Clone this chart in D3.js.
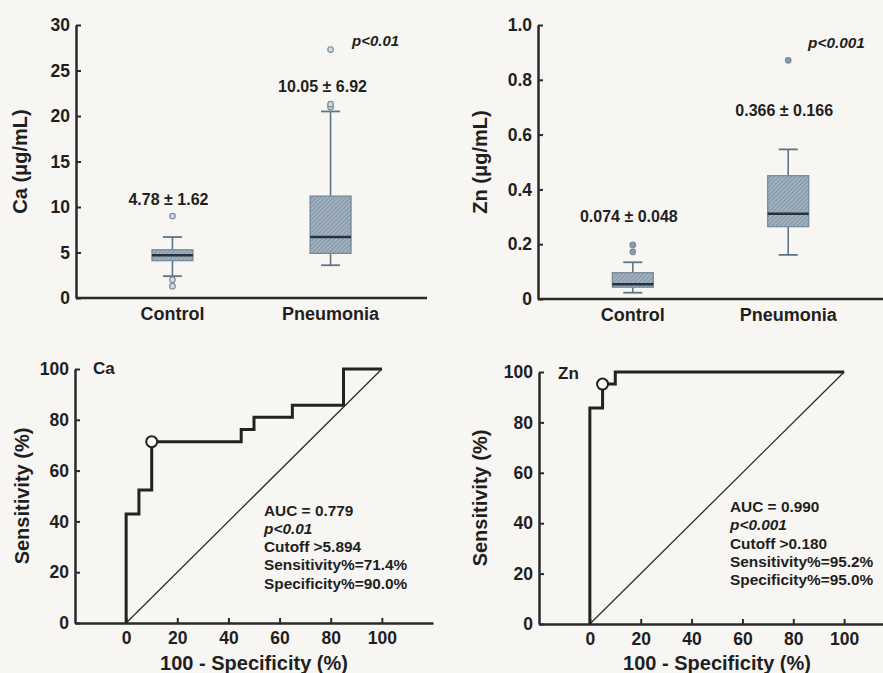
<!DOCTYPE html>
<html>
<head>
<meta charset="utf-8">
<script src="https://cdn.jsdelivr.net/npm/d3@7"></script>
<style>
  body { margin: 0; background: #f8f6f2; }
  svg { display: block; font-family: "Liberation Sans", Arial, Helvetica, sans-serif; }
</style>
</head>
<body>
<svg id="fig"></svg>
<script>
var groups = ['Control', 'Pneumonia'];

// Ca (ug/mL) box plots
var caLow = [2.4, 3.6];
var caQ1 = [4.1, 4.9];
var caMedian = [4.7, 6.7];
var caQ3 = [5.3, 11.2];
var caHigh = [6.7, 20.5];
var caOutliers = [[9.0, 2.0, 1.3], [21.0, 21.3, 27.3]];
var caMeanSd = ['4.78 ± 1.62', '10.05 ± 6.92'];
var caTicks = [0, 5, 10, 15, 20, 25, 30];

// Zn (ug/mL) box plots
var znLow = [0.023, 0.161];
var znQ1 = [0.043, 0.264];
var znMedian = [0.054, 0.311];
var znQ3 = [0.096, 0.45];
var znHigh = [0.134, 0.546];
var znOutliers = [[0.172, 0.197], [0.871]];
var znMeanSd = ['0.074 ± 0.048', '0.366 ± 0.166'];
var znTicks = [0, 0.2, 0.4, 0.6, 0.8, 1.0];

// ROC curves (100 - specificity, sensitivity)
var rocTicks = [0, 20, 40, 60, 80, 100];
var caRocX = [0, 0, 5, 10, 45, 50, 65, 85, 100];
var caRocY = [0, 42.9, 52.4, 71.4, 76.2, 81.0, 85.7, 100, 100];
var caCutoff = [10, 71.4];
var caRocText = ['AUC = 0.779', 'p<0.01', 'Cutoff >5.894', 'Sensitivity%=71.4%', 'Specificity%=90.0%'];

var znRocX = [0, 0, 5, 10, 100];
var znRocY = [0, 85.7, 95.2, 100, 100];
var znCutoff = [5, 95.2];
var znRocText = ['AUC = 0.990', 'p<0.001', 'Cutoff >0.180', 'Sensitivity%=95.2%', 'Specificity%=95.0%'];

var W = 883, H = 673;
var INK = '#1f1f1f';
var TICK_SIZE = 17.5;

var svg = d3.select('#fig').attr('width', W).attr('height', H);

svg.append('rect').attr('width', W).attr('height', H).attr('fill', '#f8f6f2');

// hatch for the boxes
var pat = svg.append('defs').append('pattern')
    .attr('id', 'hatch')
    .attr('patternUnits', 'userSpaceOnUse')
    .attr('width', 3).attr('height', 3)
    .attr('patternTransform', 'rotate(45)');
pat.append('rect').attr('width', 3).attr('height', 3).attr('fill', '#a2b1be');
pat.append('line').attr('x1', 0).attr('y1', 0).attr('x2', 0).attr('y2', 3)
    .attr('stroke', '#74899b').attr('stroke-width', 1.4);

function styleAxis(sel, size) {
    sel.select('.domain').attr('stroke', '#2a2a2a').attr('stroke-width', 2.5);
    sel.selectAll('.tick line').attr('stroke', '#2a2a2a').attr('stroke-width', 2);
    sel.selectAll('.tick text')
        .attr('fill', INK)
        .style('font-size', size + 'px')
        .style('font-weight', 'bold')
        .style('font-family', '"Liberation Sans", Arial, sans-serif');
}

var boxPanel = function (p) {
    var g = svg.append('g');

    var x = d3.scalePoint().domain(groups).range([p.left, p.right]).padding(0.61);
    var y = d3.scaleLinear().domain([p.ticks[0], p.ticks[p.ticks.length - 1]]).range([p.bottom, p.top]);

    var yAxis = d3.axisLeft(y)
        .tickValues(p.ticks)
        .tickFormat(p.fmt)
        .tickSizeInner(-5)
        .tickSizeOuter(0)
        .tickPadding(6);

    g.append('g')
        .attr('transform', 'translate(' + p.left + ',0)')
        .call(yAxis)
        .call(styleAxis, TICK_SIZE);

    g.append('line')
        .attr('x1', p.left).attr('x2', p.right)
        .attr('y1', y(0)).attr('y2', y(0))
        .attr('stroke', '#2a2a2a').attr('stroke-width', 2.5);

    g.selectAll('text.cat').data(groups).enter()
        .append('text')
        .attr('class', 'cat')
        .attr('x', function (d) { return x(d); })
        .attr('y', y(0) + 21.5)
        .attr('text-anchor', 'middle')
        .attr('fill', INK)
        .style('font-size', '18px')
        .style('font-weight', 'bold')
        .text(function (d) { return d; });

    g.append('text')
        .attr('transform', 'translate(' + p.titleX + ',' + y((p.ticks[0] + p.ticks[p.ticks.length - 1]) / 2) + ') rotate(-90)')
        .attr('text-anchor', 'middle')
        .attr('dy', '0.35em')
        .attr('fill', INK)
        .style('font-size', '20px')
        .style('font-weight', 'bold')
        .text(p.title);

    groups.forEach(function (name, i) {
        var cx = x(name), half = 20.5, cap = 9.5;
        var bg = g.append('g');

        bg.append('line')
            .attr('x1', cx).attr('x2', cx)
            .attr('y1', y(p.high[i])).attr('y2', y(p.q3[i]))
            .attr('stroke', '#5e7488').attr('stroke-width', 1.6);
        bg.append('line')
            .attr('x1', cx).attr('x2', cx)
            .attr('y1', y(p.q1[i])).attr('y2', y(p.low[i]))
            .attr('stroke', '#5e7488').attr('stroke-width', 1.6);
        [p.high[i], p.low[i]].forEach(function (v) {
            bg.append('line')
                .attr('x1', cx - cap).attr('x2', cx + cap)
                .attr('y1', y(v)).attr('y2', y(v))
                .attr('stroke', '#5e7488').attr('stroke-width', 1.8);
        });

        bg.append('rect')
            .attr('x', cx - half).attr('width', half * 2)
            .attr('y', y(p.q3[i])).attr('height', y(p.q1[i]) - y(p.q3[i]))
            .attr('fill', 'url(#hatch)')
            .attr('stroke', '#72879a').attr('stroke-width', 1.2);

        bg.append('line')
            .attr('x1', cx - half).attr('x2', cx + half)
            .attr('y1', y(p.median[i])).attr('y2', y(p.median[i]))
            .attr('stroke', '#26323d').attr('stroke-width', 2.6);

        bg.selectAll('circle').data(p.outliers[i]).enter()
            .append('circle')
            .attr('cx', cx).attr('cy', function (d) { return y(d); })
            .attr('r', 2.8)
            .attr('fill', p.outFill)
            .attr('stroke', '#7b8ea0').attr('stroke-width', 1.2);

        g.append('text')
            .attr('x', cx + p.labelDx[i])
            .attr('y', p.labelY[i])
            .attr('text-anchor', 'middle')
            .attr('fill', INK)
            .style('font-size', '16px')
            .style('font-weight', 'bold')
            .text(p.meanSd[i]);
    });

    g.append('text')
        .attr('x', p.pX).attr('y', p.pY)
        .attr('fill', INK)
        .style('font-size', p.pSize + 'px')
        .style('font-weight', 'bold')
        .style('font-style', 'italic')
        .text(p.pText);
};

boxPanel({
    left: 76, right: 427, top: 25, bottom: 298,
    ticks: caTicks, fmt: d3.format('d'),
    low: caLow, q1: caQ1, median: caMedian, q3: caQ3, high: caHigh,
    outliers: caOutliers, outFill: '#d3d9df', meanSd: caMeanSd,
    labelDx: [-4, -8], labelY: [205, 92],
    title: 'Ca (μg/mL)', titleX: 20,
    pText: 'p<0.01', pX: 352, pY: 46, pSize: 15
});

boxPanel({
    left: 538, right: 883, top: 25, bottom: 299,
    ticks: znTicks, fmt: function (d) { return d === 0 ? '0' : d.toFixed(1); },
    low: znLow, q1: znQ1, median: znMedian, q3: znQ3, high: znHigh,
    outliers: znOutliers, outFill: '#8a9cac', meanSd: znMeanSd,
    labelDx: [-4, -4], labelY: [222, 116],
    title: 'Zn (μg/mL)', titleX: 480,
    pText: 'p<0.001', pX: 808, pY: 48, pSize: 15.4
});

var rocPanel = function (p) {
    var g = svg.append('g');
    var x = d3.scaleLinear().domain([-20, 120]).range(p.xRange);
    var y = d3.scaleLinear().domain([0, 100]).range(p.yRange);

    var xAxis = d3.axisBottom(x)
        .tickValues(rocTicks)
        .tickSizeInner(-5)
        .tickSizeOuter(0)
        .tickPadding(9);
    g.append('g')
        .attr('transform', 'translate(0,' + y(0) + ')')
        .call(xAxis)
        .call(styleAxis, TICK_SIZE);

    var yAxis = d3.axisLeft(y)
        .tickValues(rocTicks)
        .tickSizeInner(-5)
        .tickSizeOuter(0)
        .tickPadding(6);
    g.append('g')
        .attr('transform', 'translate(' + x(-20) + ',0)')
        .call(yAxis)
        .call(styleAxis, TICK_SIZE);

    // chance line
    g.append('line')
        .attr('x1', x(0)).attr('y1', y(0))
        .attr('x2', x(100)).attr('y2', y(100))
        .attr('stroke', '#2e2e2e').attr('stroke-width', 1.3);

    var pts = p.rx.map(function (v, i) { return [v, p.ry[i]]; });
    var line = d3.line()
        .x(function (d) { return x(d[0]); })
        .y(function (d) { return y(d[1]); })
        .curve(d3.curveStepAfter);
    g.append('path')
        .attr('d', line(pts))
        .attr('fill', 'none')
        .attr('stroke', '#222')
        .attr('stroke-width', 3);

    g.append('circle')
        .attr('cx', x(p.cut[0])).attr('cy', y(p.cut[1]))
        .attr('r', 5.5)
        .attr('fill', '#fbfaf7')
        .attr('stroke', '#222').attr('stroke-width', 2);

    g.append('text')
        .attr('x', p.nameX).attr('y', p.nameY)
        .attr('fill', INK)
        .style('font-size', '17px')
        .style('font-weight', 'bold')
        .text(p.name);

    g.selectAll('text.note').data(p.notes).enter()
        .append('text')
        .attr('class', 'note')
        .attr('x', p.noteX)
        .attr('y', function (d, i) { return p.noteY + i * 18.3; })
        .attr('fill', INK)
        .style('font-size', '15.4px')
        .style('font-weight', 'bold')
        .style('font-style', function (d, i) { return i === 1 ? 'italic' : 'normal'; })
        .text(function (d) { return d; });

    g.append('text')
        .attr('x', x(50)).attr('y', 670)
        .attr('text-anchor', 'middle')
        .attr('fill', INK)
        .style('font-size', '20px')
        .style('font-weight', 'bold')
        .text('100 - Specificity (%)');

    g.append('text')
        .attr('transform', 'translate(' + p.titleX + ',' + y(50) + ') rotate(-90)')
        .attr('text-anchor', 'middle')
        .attr('dy', '0.35em')
        .attr('fill', INK)
        .style('font-size', '20px')
        .style('font-weight', 'bold')
        .text('Sensitivity (%)');
};

rocPanel({
    xRange: [75, 433], yRange: [623, 369],
    rx: caRocX, ry: caRocY, cut: caCutoff,
    name: 'Ca', nameX: 93, nameY: 374,
    notes: caRocText, noteX: 264, noteY: 515.5,
    titleX: 22
});

rocPanel({
    xRange: [539, 895], yRange: [624, 372],
    rx: znRocX, ry: znRocY, cut: znCutoff,
    name: 'Zn', nameX: 558, nameY: 379,
    notes: znRocText, noteX: 730, noteY: 512,
    titleX: 480
});
</script>
</body>
</html>
